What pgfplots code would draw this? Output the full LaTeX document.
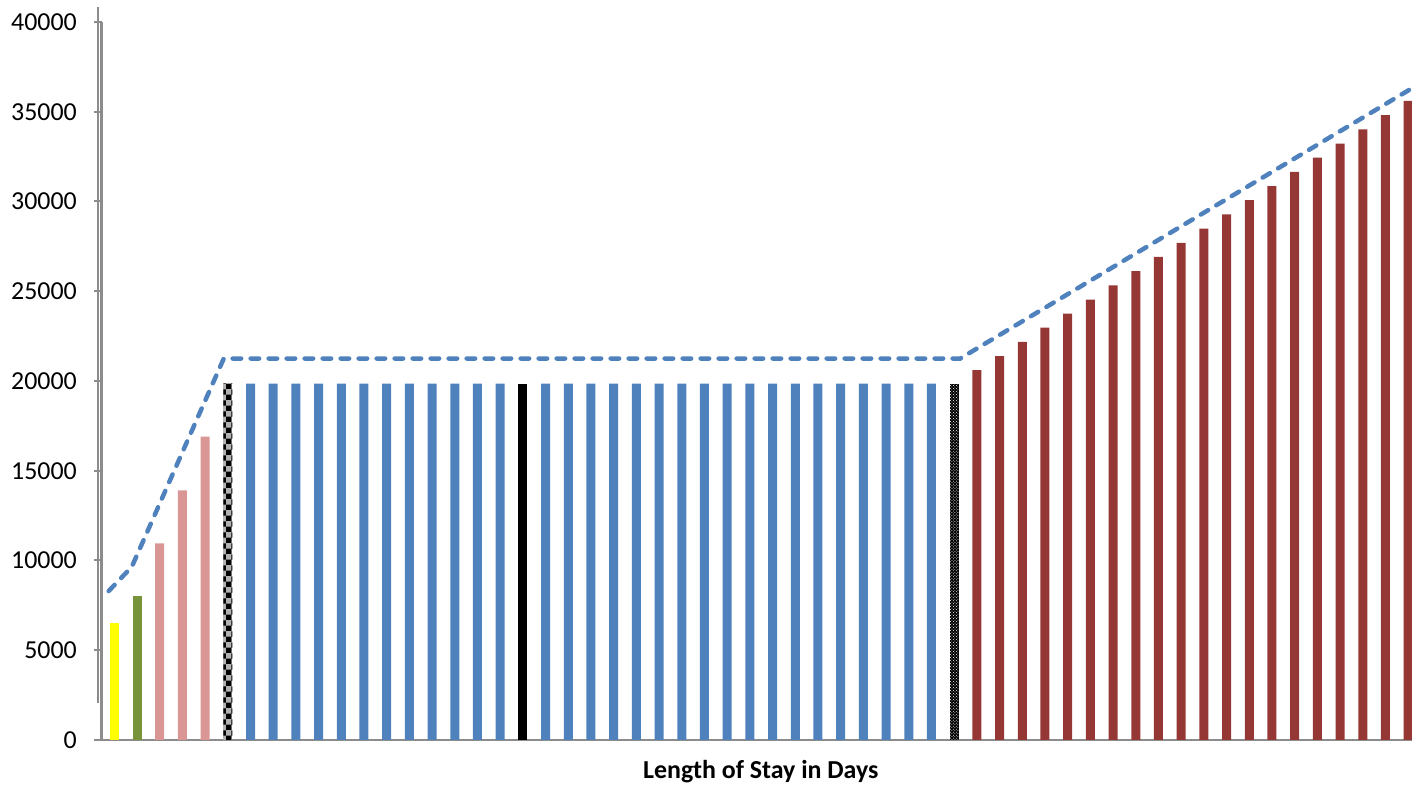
\documentclass[border=0pt]{standalone}
\usepackage{pgfplots}
\pgfplotsset{compat=1.18}
\usepackage{fontspec}
\setmainfont{Carlito}
\usetikzlibrary{patterns}
\definecolor{axgray}{HTML}{8C8C8C}
\definecolor{cblue}{HTML}{4F81BD}
\definecolor{cred}{HTML}{953735}
\definecolor{cgreen}{HTML}{77933C}
\definecolor{cpink}{HTML}{D99694}
\definecolor{cyellow}{HTML}{FFFF00}

\pgfplotstableread{
x y
0 6500
}\tyellow
\pgfplotstableread{
x y
1 8000
}\tgreen
\pgfplotstableread{
x y
2 10950
3 13900
4 16900
}\tpink
\pgfplotstableread{
x y
5 19850
}\tcheckA
\pgfplotstableread{
x y
6 19850
7 19850
8 19850
9 19850
10 19850
11 19850
12 19850
13 19850
14 19850
15 19850
16 19850
17 19850
19 19850
20 19850
21 19850
22 19850
23 19850
24 19850
25 19850
26 19850
27 19850
28 19850
29 19850
30 19850
31 19850
32 19850
33 19850
34 19850
35 19850
36 19850
}\tblue
\pgfplotstableread{
x y
18 19850
}\tblack
\pgfplotstableread{
x y
37 19850
}\tcheckB
\pgfplotstableread{
x y
38 20600
39 21390
40 22180
41 22970
42 23750
43 24540
44 25330
45 26120
46 26910
47 27700
48 28490
49 29280
50 30070
51 30860
52 31650
53 32440
54 33230
55 34020
56 34810
57 35600
}\tred
\pgfplotstableread{
x y
0 8300
1 9640
2 12540
3 15445
4 18350
5 21250
6 21250
7 21250
8 21250
9 21250
10 21250
11 21250
12 21250
13 21250
14 21250
15 21250
16 21250
17 21250
18 21250
19 21250
20 21250
21 21250
22 21250
23 21250
24 21250
25 21250
26 21250
27 21250
28 21250
29 21250
30 21250
31 21250
32 21250
33 21250
34 21250
35 21250
36 21250
37 21250
38 22017
39 22784
40 23551
41 24318
42 25085
43 25852
44 26619
45 27386
46 28153
47 28920
48 29687
49 30454
50 31221
51 31988
52 32755
53 33522
54 34289
55 35056
56 35823
57 36590
}\tline

\begin{document}
\begin{tikzpicture}
\useasboundingbox (0,0) rectangle (1412bp,786bp);
\begin{axis}[
  at={(101.5bp,46bp)}, anchor=south west,
  scale only axis, width=1310.5bp, height=718bp,
  xmin=-0.564, xmax=57.17, ymin=0, ymax=40000,
  axis x line*=bottom, axis y line*=left,
  axis line style={draw=axgray, line width=2bp},
  xtick=\empty,
  ytick={0,5000,...,40000},
  tick align=outside, major tick length=7.5bp,
  ytick style={draw=axgray, line width=2bp},
  scaled y ticks=false,
  /pgf/number format/1000 sep={},
  /pgf/number format/assume math mode=true,
  ticklabel style={font=\fontsize{26}{30}\selectfont},
  yticklabel style={inner sep=0pt, xshift=-17bp},
  xlabel={\bfseries Length of Stay in Days},
  xlabel style={font=\fontsize{26}{30}\selectfont, at={(axis description cs:0.5,0)}, anchor=base, yshift=-38bp, xshift=4bp},
  clip=true,
]
\addplot[ybar, bar shift=0pt, bar width=9bp, fill=cyellow, draw=none] table[x=x,y=y] {\tyellow};
\addplot[ybar, bar shift=0pt, bar width=9bp, fill=cgreen, draw=none] table[x=x,y=y] {\tgreen};
\addplot[ybar, bar shift=0pt, bar width=9bp, fill=cpink, draw=none] table[x=x,y=y] {\tpink};
\addplot[ybar, bar shift=0pt, bar width=9bp, fill=gray!60, draw=none, postaction={pattern=checkerboard, pattern color=black}] table[x=x,y=y] {\tcheckA};
\addplot[ybar, bar shift=0pt, bar width=9bp, fill=cblue, draw=none] table[x=x,y=y] {\tblue};
\addplot[ybar, bar shift=0pt, bar width=9bp, fill=black, draw=none] table[x=x,y=y] {\tblack};
\addplot[ybar, bar shift=0pt, bar width=9bp, fill=black, draw=none, postaction={pattern=crosshatch dots, pattern color=white}] table[x=x,y=y] {\tcheckB};
\addplot[ybar, bar shift=0pt, bar width=9bp, fill=cred, draw=none] table[x=x,y=y] {\tred};
\end{axis}
\begin{axis}[
  at={(101.5bp,46bp)}, anchor=south west,
  scale only axis, width=1310.5bp, height=718bp,
  xmin=-0.313, xmax=56.64, ymin=0, ymax=40000,
  axis lines=none, ticks=none,
  clip=true,
]
\addplot[sharp plot, no markers, cblue, line width=4.5bp, line cap=round, dash pattern=on 8.5bp off 9.5bp] table[x=x,y=y] {\tline};
\end{axis}
\draw[axgray, line width=2bp] (98bp,83bp) -- (98bp,779bp);
\end{tikzpicture}
\end{document}
